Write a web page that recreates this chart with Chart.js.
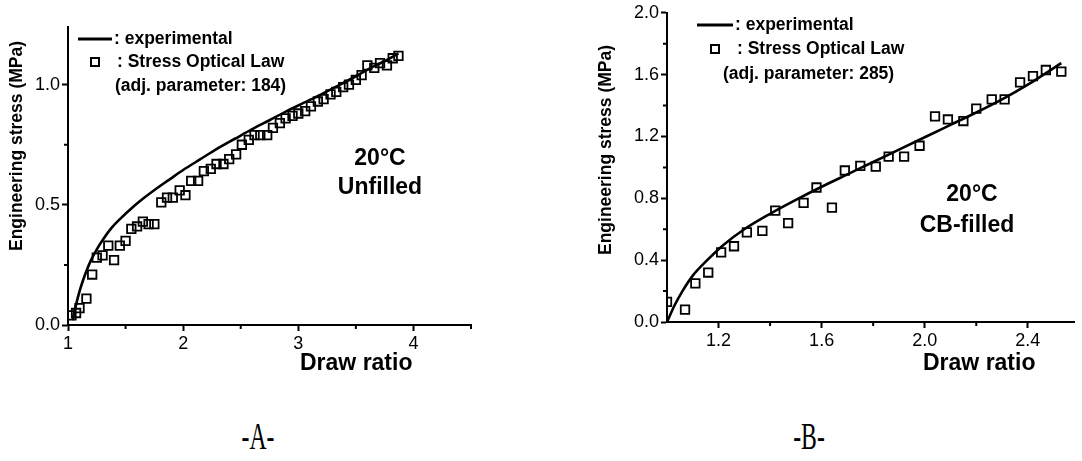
<!DOCTYPE html>
<html>
<head>
<meta charset="utf-8">
<script src="https://cdn.jsdelivr.net/npm/chart.js@4.4.1/dist/chart.umd.min.js"></script>
<style>
  html, body { margin: 0; padding: 0; background: #fff; }
  body { width: 1082px; height: 461px; position: relative; overflow: hidden; }
  canvas { position: absolute; top: 0; }
  .caption {
    position: absolute; top: 415px; width: 100px; text-align: center;
    font-family: "Liberation Serif", "Times New Roman", serif; font-size: 37px; color: #000;
    transform: translateX(-50%) scaleX(0.64);
  }
</style>
</head>
<body>
<canvas id="chartA" width="541" height="380" style="left:0"></canvas>
<canvas id="chartB" width="541" height="380" style="left:541px"></canvas>
<div class="caption" style="left:258px">-A-</div>
<div class="caption" style="left:809px">-B-</div>

<script>
// --- Panel A: unfilled, 20°C ---
const A_EXP_DRAW = [1.04, 1.07, 1.10, 1.13, 1.16, 1.20, 1.25, 1.31, 1.38, 1.46, 1.55, 1.65, 1.76, 1.88, 2.00,
  2.15, 2.30, 2.45, 2.60, 2.75, 2.90, 3.05, 3.20, 3.35, 3.50, 3.65, 3.78, 3.87];
const A_EXP_STRESS = [0.02, 0.085, 0.14, 0.185, 0.225, 0.27, 0.315, 0.36, 0.405, 0.445, 0.485, 0.525, 0.565,
  0.605, 0.645, 0.69, 0.735, 0.775, 0.815, 0.852, 0.89, 0.925, 0.96, 0.997, 1.035, 1.075, 1.105, 1.13];
const A_SOL_DRAW = [1.03, 1.07, 1.10, 1.16, 1.21, 1.25, 1.30, 1.35, 1.40, 1.45, 1.50, 1.55, 1.60, 1.65, 1.70,
  1.75, 1.81, 1.86, 1.91, 1.97, 2.02, 2.07, 2.13, 2.18, 2.24, 2.29, 2.35, 2.40, 2.46, 2.51, 2.57, 2.62, 2.67,
  2.73, 2.78, 2.84, 2.89, 2.95, 3.00, 3.06, 3.11, 3.17, 3.22, 3.28, 3.33, 3.39, 3.44, 3.50, 3.55, 3.60, 3.66,
  3.71, 3.77, 3.82, 3.87];
const A_SOL_STRESS = [0.04, 0.05, 0.07, 0.11, 0.21, 0.28, 0.29, 0.33, 0.27, 0.33, 0.35, 0.40, 0.41, 0.43, 0.42,
  0.42, 0.51, 0.53, 0.53, 0.56, 0.54, 0.60, 0.60, 0.64, 0.65, 0.67, 0.67, 0.69, 0.71, 0.75, 0.77, 0.79, 0.79,
  0.79, 0.82, 0.84, 0.86, 0.87, 0.88, 0.89, 0.91, 0.93, 0.94, 0.96, 0.97, 0.99, 1.00, 1.02, 1.04, 1.08, 1.07,
  1.09, 1.08, 1.11, 1.12];
const A_X_TICKS = [1, 2, 3, 4];
const A_X_MINOR = [1.5, 2.5, 3.5, 4.5];
const A_Y_TICKS = [0, 0.5, 1.0];
const A_Y_MINOR = [0.25, 0.75];

// --- Panel B: CB-filled, 20°C ---
const B_EXP_DRAW = [1.00, 1.03, 1.06, 1.10, 1.15, 1.22, 1.30, 1.40, 1.50, 1.60, 1.70, 1.80, 1.90, 2.00, 2.10,
  2.20, 2.30, 2.40, 2.53];
const B_EXP_STRESS = [0.00, 0.11, 0.20, 0.30, 0.39, 0.50, 0.60, 0.70, 0.79, 0.875, 0.955, 1.035, 1.115, 1.195,
  1.275, 1.355, 1.44, 1.535, 1.675];
const B_SOL_DRAW = [1.00, 1.07, 1.11, 1.16, 1.21, 1.26, 1.31, 1.37, 1.42, 1.47, 1.53, 1.58, 1.64, 1.69, 1.75,
  1.81, 1.86, 1.92, 1.98, 2.04, 2.09, 2.15, 2.20, 2.26, 2.31, 2.37, 2.42, 2.47, 2.53];
const B_SOL_STRESS = [0.13, 0.08, 0.25, 0.32, 0.45, 0.49, 0.58, 0.59, 0.72, 0.64, 0.77, 0.87, 0.74, 0.98, 1.01,
  1.005, 1.07, 1.07, 1.14, 1.33, 1.31, 1.30, 1.38, 1.44, 1.44, 1.55, 1.59, 1.63, 1.62];
const B_X_TICKS = [1.2, 1.6, 2.0, 2.4];
const B_X_MINOR = [1.4, 1.8, 2.2];
const B_Y_TICKS = [0, 0.4, 0.8, 1.2, 1.6, 2.0];
const B_Y_MINOR = [0.2, 0.6, 1.0, 1.4, 1.8];

const SANS = '"Liberation Sans", Arial, sans-serif';

function pairs(xs, ys) {
  return xs.map((x, i) => ({ x: x, y: ys[i] }));
}

// short minor ticks plus the in-plot legend and labels
const decorPlugin = {
  id: 'decor',
  afterDraw(chart, args, opts) {
    const ctx = chart.ctx;
    const xs = chart.scales.x;
    const ys = chart.scales.y;
    ctx.save();
    ctx.strokeStyle = '#000';
    ctx.lineWidth = 2;
    ctx.beginPath();
    opts.minorX.forEach(v => {
      const px = xs.getPixelForValue(v);
      ctx.moveTo(px, xs.top);
      ctx.lineTo(px, xs.top + 4);
    });
    opts.minorY.forEach(v => {
      const py = ys.getPixelForValue(v);
      ctx.moveTo(ys.right, py);
      ctx.lineTo(ys.right - 4, py);
    });
    ctx.stroke();

    // legend
    const lg = opts.legend;
    ctx.lineWidth = 3;
    ctx.beginPath();
    ctx.moveTo(lg.lineX0, lg.lineY);
    ctx.lineTo(lg.lineX1, lg.lineY);
    ctx.stroke();
    ctx.lineWidth = 2;
    ctx.strokeRect(lg.boxX - 4, lg.boxY - 4, 8, 8);

    ctx.fillStyle = '#000';
    ctx.textBaseline = 'middle';
    ctx.textAlign = 'left';
    ctx.font = 'bold 17.5px ' + SANS;
    ctx.fillText(': experimental', lg.lineX1 + 2, lg.lineY);
    ctx.fillText(': Stress Optical Law', lg.textX2, lg.boxY);
    ctx.fillText(lg.param, lg.textX3, lg.y3);

    // condition label
    ctx.textAlign = 'center';
    ctx.font = 'bold 23px ' + SANS;
    opts.notes.forEach(n => ctx.fillText(n.text, n.x, n.y));

    // axis titles
    ctx.textAlign = 'left';
    ctx.textBaseline = 'alphabetic';
    ctx.font = 'bold 23px ' + SANS;
    ctx.fillText('Draw ratio', opts.xTitle.x, opts.xTitle.y);

    ctx.translate(opts.yTitle.x, opts.yTitle.y);
    ctx.rotate(-Math.PI / 2);
    ctx.textAlign = 'center';
    ctx.textBaseline = 'middle';
    ctx.font = 'bold 17.5px ' + SANS;
    ctx.fillText('Engineering stress (MPa)', 0, 0);
    ctx.restore();
  }
};

function axis(min, max, ticks, fmt, fitSize, horizontal) {
  const opt = {
    type: 'linear',
    min: min,
    max: max,
    afterBuildTicks: scale => { scale.ticks = ticks.map(v => ({ value: v })); },
    grid: { drawOnChartArea: false, drawTicks: true, tickLength: 6, tickWidth: 2, tickColor: '#000' },
    border: { display: true, color: '#000', width: 2 },
    ticks: {
      autoSkip: false,
      maxRotation: 0,
      padding: 2,
      color: '#000',
      font: { family: SANS, size: 18 },
      callback: fmt
    }
  };
  if (horizontal) {
    opt.afterFit = scale => { scale.height = fitSize; };
  } else {
    opt.afterFit = scale => { scale.width = fitSize; };
  }
  return opt;
}

function makeChart(id, cfg) {
  return new Chart(document.getElementById(id), {
    type: 'scatter',
    data: {
      datasets: [
        {
          type: 'line',
          data: pairs(cfg.expX, cfg.expY),
          borderColor: '#000',
          borderWidth: 2.6,
          pointRadius: 0,
          fill: false,
          cubicInterpolationMode: 'monotone'
        },
        {
          data: pairs(cfg.solX, cfg.solY),
          pointStyle: 'rect',
          pointRadius: 6,
          borderColor: '#000',
          borderWidth: 1.8,
          backgroundColor: 'rgba(0,0,0,0)'
        }
      ]
    },
    options: {
      responsive: false,
      devicePixelRatio: 1,
      animation: false,
      layout: { padding: cfg.padding },
      plugins: {
        legend: { display: false },
        tooltip: { enabled: false },
        decor: cfg.decor
      },
      scales: {
        x: axis(cfg.xMin, cfg.xMax, cfg.xTicks, cfg.xFmt, cfg.xFit, true),
        y: axis(cfg.yMin, cfg.yMax, cfg.yTicks, cfg.yFmt, cfg.yFit, false)
      }
    },
    plugins: [decorPlugin]
  });
}

makeChart('chartA', {
  expX: A_EXP_DRAW, expY: A_EXP_STRESS, solX: A_SOL_DRAW, solY: A_SOL_STRESS,
  xMin: 1, xMax: 4.5, xTicks: A_X_TICKS, xFmt: v => String(v), xFit: 55,
  yMin: 0, yMax: 1.24, yTicks: A_Y_TICKS, yFmt: v => v.toFixed(1), yFit: 68,
  padding: { left: 0, top: 27, right: 70, bottom: 0 },
  decor: {
    minorX: A_X_MINOR, minorY: A_Y_MINOR,
    legend: { lineX0: 78, lineX1: 112, lineY: 39, boxX: 95, boxY: 62, textX2: 117, textX3: 115, y3: 86,
      param: '(adj. parameter: 184)' },
    notes: [{ text: '20°C', x: 380, y: 159 }, { text: 'Unfilled', x: 380, y: 188 }],
    xTitle: { x: 300, y: 370 },
    yTitle: { x: 17, y: 146 }
  }
});

makeChart('chartB', {
  expX: B_EXP_DRAW, expY: B_EXP_STRESS, solX: B_SOL_DRAW, solY: B_SOL_STRESS,
  xMin: 1, xMax: 2.58, xTicks: B_X_TICKS, xFmt: v => v.toFixed(1), xFit: 58,
  yMin: 0, yMax: 2.0, yTicks: B_Y_TICKS, yFmt: v => v.toFixed(1), yFit: 126,
  padding: { left: 0, top: 11, right: 1, bottom: 0 },
  decor: {
    minorX: B_X_MINOR, minorY: B_Y_MINOR,
    legend: { lineX0: 156, lineX1: 192, lineY: 25, boxX: 174, boxY: 49, textX2: 196, textX3: 182, y3: 74,
      param: '(adj. parameter: 285)' },
    notes: [{ text: '20°C', x: 431, y: 195 }, { text: 'CB-filled', x: 426, y: 226 }],
    xTitle: { x: 382, y: 370 },
    yTitle: { x: 65, y: 150 }
  }
});
</script>
</body>
</html>
